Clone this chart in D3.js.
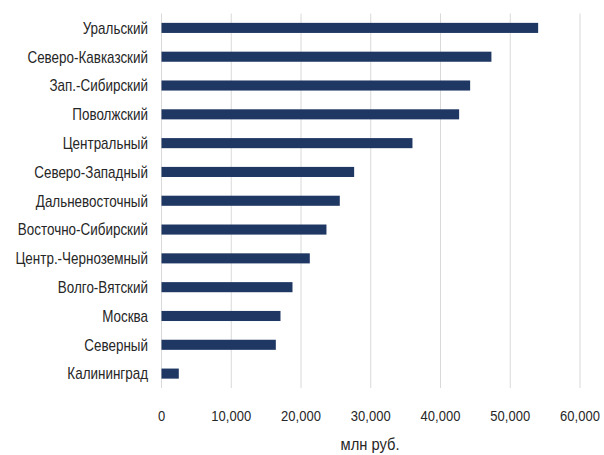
<!DOCTYPE html>
<html><head><meta charset="utf-8">
<script src="https://cdn.jsdelivr.net/npm/d3@7"></script>
<style>body{margin:0;background:#fff}</style>
</head><body>
<svg id="c" width="604" height="455"></svg>
<script>
const categories = ["Уральский","Северо-Кавказский","Зап.-Сибирский","Поволжский","Центральный","Северо-Западный","Дальневосточный","Восточно-Сибирский","Центр.-Черноземный","Волго-Вятский","Москва","Северный","Калининград"];
const values = [54000,47300,44250,42670,35980,27620,25560,23650,21260,18780,17060,16390,2480];
const xTicks = [0,10000,20000,30000,40000,50000,60000];
const xTitle = "млн руб.";

const svg = d3.select("#c");
const font = "'Liberation Sans', Arial, sans-serif";
const x = d3.scaleLinear().domain([0,60000]).range([161.5,580]);
const y = d3.scaleBand().domain(categories).range([13.5,388]).paddingInner(0.65).paddingOuter(0.325);

svg.append("g").selectAll("line").data(xTicks).join("line")
  .attr("x1",d=>x(d)).attr("x2",d=>x(d)).attr("y1",13.5).attr("y2",388)
  .attr("stroke","#d9d9d9").attr("stroke-width",1);

svg.append("g").selectAll("rect").data(values).join("rect")
  .attr("x",x(0)).attr("y",(d,i)=>y(categories[i]))
  .attr("width",d=>x(d)-x(0)).attr("height",y.bandwidth())
  .attr("fill","#1f3763");

svg.append("g").selectAll("text").data(categories).join("text")
  .attr("transform",d=>`translate(148,${y(d)+y.bandwidth()/2+5.8}) scale(0.84,1)`)
  .attr("text-anchor","end").attr("font-family",font).attr("font-size",16)
  .attr("fill","#262626").text(d=>d);

svg.append("g").selectAll("text").data(xTicks).join("text")
  .attr("transform",d=>`translate(${x(d)},421) scale(0.84,1)`)
  .attr("text-anchor","middle").attr("font-family",font).attr("font-size",15.5)
  .attr("fill","#262626").text(d=>d3.format(",")(d));

svg.append("text").attr("transform","translate(370,450) scale(0.92,1)")
  .attr("text-anchor","middle").attr("font-family",font).attr("font-size",16)
  .attr("fill","#262626").text(xTitle);
</script>
</body></html>
